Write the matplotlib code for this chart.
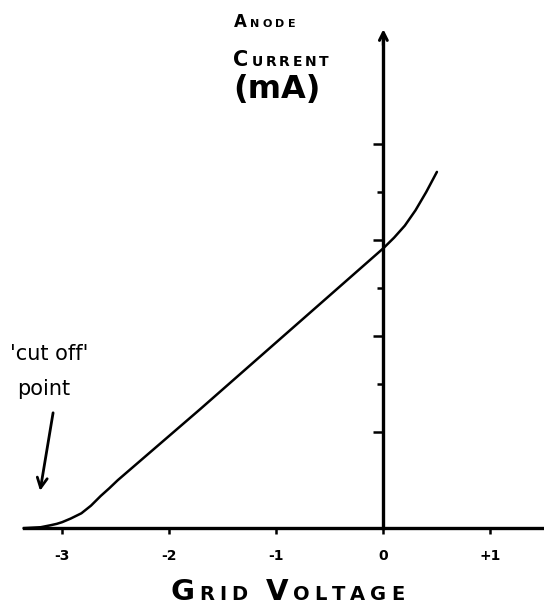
import numpy as np
import matplotlib.pyplot as plt

# --- data ---
grid_v = [-3.36, -3.2, -3.11, -3.05, -3.0, -2.92, -2.82, -2.73, -2.64, -2.56, -2.48,
          -1.71, -0.5, 0.0, 0.1, 0.2, 0.3, 0.4, 0.5]
current = [0.0, 0.02, 0.06, 0.09, 0.125, 0.2, 0.31, 0.47, 0.67, 0.83, 1.0,
           2.48, 4.85, 5.83, 6.05, 6.3, 6.62, 7.0, 7.42]

x_ticks = [-3, -2, -1, 0, 1]
x_tick_labels = ['-3', '-2', '-1', '0', '+1']
y_major = [2, 4, 6, 8]
y_minor = [3, 5, 7]

FONT = 'DejaVu Sans'


def small_caps(ax, x, y, word, big, small, gap=1.5):
    '''writes a word letter by letter, first letter of each word large'''
    prev = None
    new_word = True
    extra = 0
    for ch in word:
        if ch == ' ':
            new_word = True
            extra = small * 0.7
            continue
        size = big if new_word else small
        if prev is None:
            prev = ax.text(x, y, ch, fontsize=size, fontweight='bold',
                           family=FONT, va='baseline', ha='left')
        else:
            # x from the previous letter, y on the shared baseline
            prev = ax.annotate(ch, xy=(1, y), xycoords=(prev, 'data'),
                               xytext=(gap + extra, 0),
                               textcoords='offset points', fontsize=size,
                               fontweight='bold', family=FONT,
                               va='baseline', ha='left')
        new_word = False
        extra = 0
    return prev


fig = plt.figure(figsize=(5.44, 6.05), dpi=100)
ax = fig.add_axes([0, 0, 1, 1])

ax.plot(grid_v, current, color='black', lw=1.8, solid_capstyle='round',
        solid_joinstyle='round')

ax.set_xlim(-3.58, 1.50)
ax.set_ylim(-1.6, 11.0)

# axes through the origin
for s in ['top', 'right']:
    ax.spines[s].set_visible(False)
ax.spines['left'].set_position(('data', 0))
ax.spines['bottom'].set_position(('data', 0))
ax.spines['left'].set_bounds(0, 10.2)
ax.spines['bottom'].set_bounds(-3.36, 1.50)
ax.spines['left'].set_linewidth(2.4)
ax.spines['bottom'].set_linewidth(2.4)
ax.annotate('', xy=(0, 10.45), xytext=(0, 10.0),
            arrowprops=dict(arrowstyle='->', lw=2.2, color='black', mutation_scale=14))

ax.set_xticks(x_ticks, x_tick_labels)
ax.tick_params(axis='x', direction='out', length=4, width=1.8, pad=11,
               labelsize=10)
for lab in ax.get_xticklabels():
    lab.set_fontweight('bold')
ax.set_yticks(y_major)
ax.set_yticks(y_minor, minor=True)
ax.tick_params(axis='y', which='major', direction='out', length=7, width=1.8, labelleft=False)
ax.tick_params(axis='y', which='minor', direction='out', length=4, width=1.8, labelleft=False)

# axis titles
small_caps(ax, -1.99, -1.5, 'GRID VOLTAGE', 21, 14, gap=3.5)
small_caps(ax, -1.40, 10.44, 'ANODE', 12, 8, gap=2.5)
small_caps(ax, -1.40, 9.63, 'CURRENT', 15, 10, gap=2)
ax.text(-1.40, 8.95, '(mA)', fontsize=23, fontweight='bold', family=FONT,
        va='baseline', ha='left')

# cut-off label and arrow
ax.text(-3.49, 3.5, "'cut off'", fontsize=15, family=FONT, va='baseline', ha='left')
ax.text(-3.42, 2.77, 'point', fontsize=15, family=FONT, va='baseline', ha='left')
ax.annotate('', xy=(-3.21, 0.72), xytext=(-3.08, 2.46),
            arrowprops=dict(arrowstyle='->', lw=2.0, color='black', mutation_scale=18))

plt.savefig('out.png', dpi=100)
